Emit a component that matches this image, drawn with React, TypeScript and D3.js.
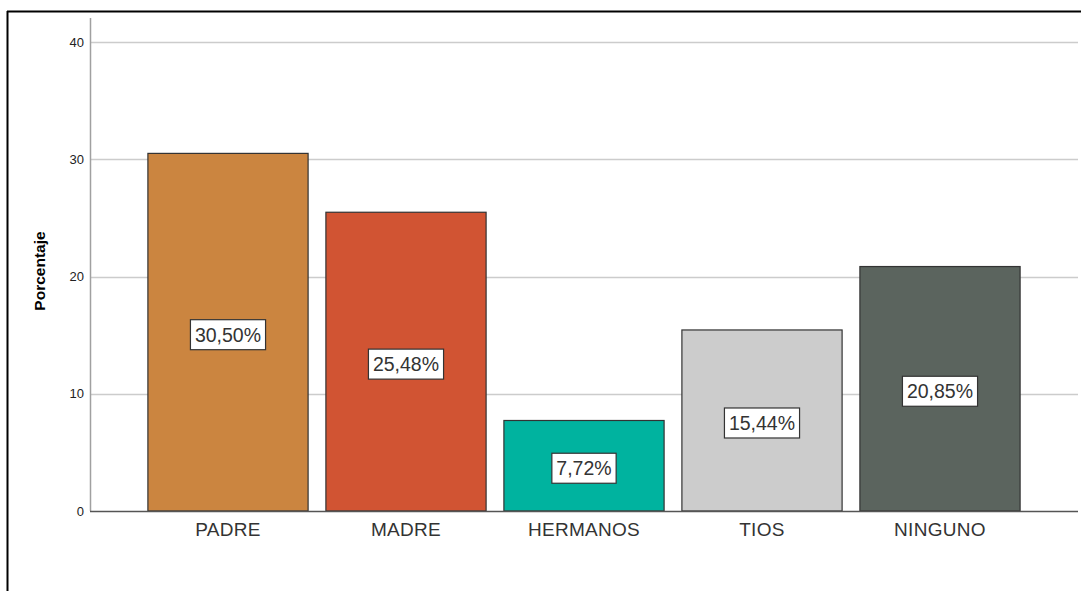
import React from "react";
import * as d3 from "d3";

const categories = ["PADRE", "MADRE", "HERMANOS", "TIOS", "NINGUNO"];
const values = [30.5, 25.48, 7.72, 15.44, 20.85];
const labels = ["30,50%", "25,48%", "7,72%", "15,44%", "20,85%"];
const colors = ["#CB8540", "#D15433", "#00B39F", "#CCCCCC", "#5B645E"];
const yTicks = [0, 10, 20, 30, 40];

const W = 1081;
const H = 591;

function textWidth(s: string, fs: number) {
  let w = 0;
  for (const ch of s) {
    if (ch === ",") w += 0.278;
    else if (ch === "%") w += 0.889;
    else w += 0.556;
  }
  return w * fs;
}

export default function App() {
  const y = d3.scaleLinear().domain([0, 40]).range([511, 42]);
  const x = d3.scaleBand<string>().domain(categories).range([139, 1029]).paddingInner(0.1).paddingOuter(0.05);
  const font = "'Liberation Sans', Arial, sans-serif";
  const lfs = 19.5;
  return (
    <svg width={W} height={H} style={{ position: "absolute", left: 0, top: 0 }}>
      <rect x={0} y={0} width={W} height={H} fill="#fff" />
      <line x1={7.5} y1={11} x2={7.5} y2={H} stroke="#000" strokeWidth={2} />
      <line x1={7} y1={11.5} x2={W} y2={11.5} stroke="#000" strokeWidth={2} />
      {yTicks.slice(1).map((t) => (
        <line key={t} x1={90} x2={1078} y1={Math.round(y(t)) + 0.5} y2={Math.round(y(t)) + 0.5} stroke="#cccccc" strokeWidth={1.3} />
      ))}
      {yTicks.map((t) => (
        <text key={t} x={84} y={y(t) + 4.5} textAnchor="end" fontFamily={font} fontSize={13} fill="#222">
          {t}
        </text>
      ))}
      {categories.map((c, i) => {
        const bx = x(c)!;
        const bw = x.bandwidth();
        const top = y(values[i]);
        const cy = y(values[i] / 2) + 2.5;
        const cx = bx + bw / 2;
        const lw = textWidth(labels[i], lfs) + 9;
        return (
          <g key={c}>
            <rect x={bx} y={top} width={bw} height={511 - top} fill={colors[i]} stroke="#333" strokeWidth={1.2} />
            <rect x={cx - lw / 2} y={cy - 15} width={lw} height={30} fill="#fff" stroke="#333" strokeWidth={1.2} />
            <text x={cx} y={cy + 7} textAnchor="middle" fontFamily={font} fontSize={lfs} fill="#333">
              {labels[i]}
            </text>
            <text x={cx} y={536} textAnchor="middle" fontFamily={font} fontSize={19} fill="#333" letterSpacing={0.3}>
              {c}
            </text>
          </g>
        );
      })}
      <line x1={90.5} x2={90.5} y1={18} y2={511} stroke="#a0a0a0" strokeWidth={1.5} />
      <line x1={90} x2={1078} y1={511.5} y2={511.5} stroke="#555" strokeWidth={1.5} />
      <text transform={`translate(45,271) rotate(-90)`} textAnchor="middle" fontFamily={font} fontSize={15.5} fontWeight="bold" fill="#000">
        Porcentaje
      </text>
    </svg>
  );
}
